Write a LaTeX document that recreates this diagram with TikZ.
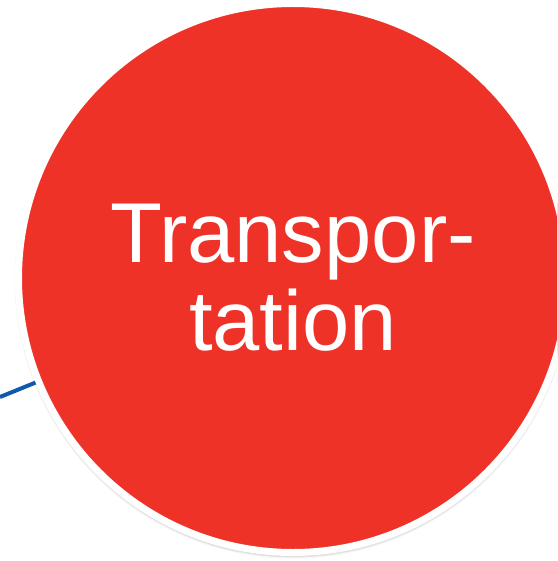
\documentclass[tikz,border=0pt]{standalone}
\usepackage{fontspec}
\setmainfont{Liberation Sans}
\usetikzlibrary{shadows.blur}
\definecolor{bubblered}{RGB}{238,50,39}
\definecolor{linkblue}{RGB}{15,90,170}

\begin{document}
\begin{tikzpicture}[x=1pt, y=-1pt]
    \tikzset{
      bubble/.style={circle, fill=bubblered, draw=white, line width=7pt,
        minimum size=549pt, inner sep=0pt, text=white, align=center,
        font=\fontsize{85}{86}\selectfont,
        blur shadow={shadow xshift=0pt, shadow yshift=-2pt,
          shadow blur radius=4pt, shadow opacity=60}},
      link/.style={draw=linkblue, line width=4pt}
    }
    \useasboundingbox (0,0) rectangle (557,561);
    \clip (0,0) rectangle (557,561);

    % verbindung nach links, endet am rand der blase
    \coordinate (linkend) at (0,397);
    \node[bubble] (transport) at (293,278) {\raisebox{6pt}{Transpor-}\\[-4pt]tation};
    \draw[link] (linkend) -- (transport);
\end{tikzpicture}
\end{document}
